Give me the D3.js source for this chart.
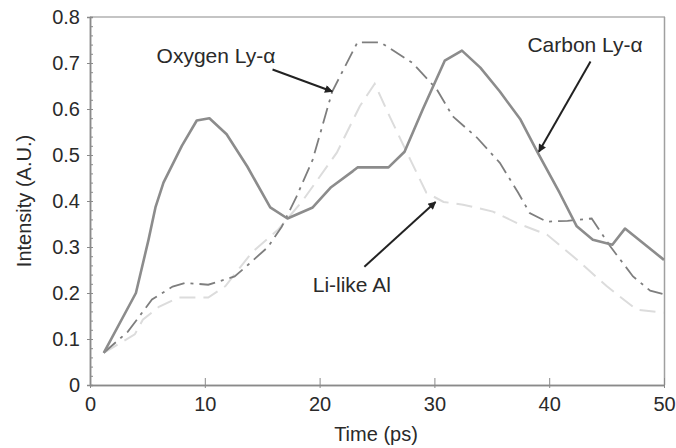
<!DOCTYPE html>
<html lang="en">
<head>
<meta charset="UTF-8">
<title>Intensity vs time</title>
<script src="https://d3js.org/d3.v7.min.js"></script>
<style>
    body { margin: 0; background: #fff; }
    svg { font-family: "Liberation Sans", Arial, sans-serif; }
    .axis path, .axis line { stroke: #8a8a8a; }
    .axis text { fill: #2a2a2a; font-size: 20px; }
</style>
</head>
<body>
<svg id="chart" width="676" height="448"></svg>
<script>
// time (ps), intensity (A.U.)
const carbonX = [1.2, 4, 5.1, 5.7, 6.4, 8, 9.3, 10.4, 11.9, 13.7, 15.7, 17.2, 19.4, 21, 22.9, 23.3, 26, 27.4, 29, 30.9, 32.4, 34, 35.7, 37.5, 39, 40.9, 42.4, 43.8, 45.5, 46.6, 50];
const carbonY = [0.07, 0.2, 0.316, 0.386, 0.44, 0.52, 0.575, 0.58, 0.545, 0.475, 0.386, 0.362, 0.386, 0.43, 0.465, 0.473, 0.473, 0.507, 0.6, 0.705, 0.727, 0.69, 0.638, 0.577, 0.505, 0.418, 0.345, 0.316, 0.305, 0.34, 0.272];

const oxygenX = [1.2, 3.3, 5.4, 7.2, 8.3, 10.3, 12.6, 13.8, 15.5, 16.7, 18, 19.4, 21.1, 23.3, 25.3, 28.1, 30.2, 31.6, 33.7, 35.7, 37.3, 38.3, 39.8, 41.6, 43.7, 45.3, 47.3, 48.8, 50];
const oxygenY = [0.07, 0.116, 0.186, 0.214, 0.222, 0.218, 0.236, 0.262, 0.3, 0.344, 0.41, 0.49, 0.638, 0.745, 0.745, 0.7, 0.643, 0.584, 0.538, 0.483, 0.418, 0.374, 0.355, 0.357, 0.362, 0.302, 0.236, 0.205, 0.197];

const lialX = [1.2, 3.9, 4.6, 6, 7.7, 10.3, 11.8, 14.1, 16.4, 18.5, 21.5, 23.5, 24.8, 26.1, 27.9, 29.3, 30.8, 32.5, 35.1, 37.2, 39.8, 42.4, 45, 47.6, 50];
const lialY = [0.07, 0.11, 0.142, 0.17, 0.19, 0.19, 0.215, 0.288, 0.338, 0.4, 0.505, 0.606, 0.655, 0.584, 0.49, 0.418, 0.398, 0.392, 0.377, 0.352, 0.327, 0.273, 0.215, 0.164, 0.157];

const xTicks = [0, 10, 20, 30, 40, 50];
const yTicks = [0, 0.1, 0.2, 0.3, 0.4, 0.5, 0.6, 0.7, 0.8];
const yMinor = d3.range(0, 0.801, 0.02);

// annotation labels: text, anchor point (data), arrow tail (data), arrow tip (data)
const labelText = ["Oxygen Ly-\u03b1", "Carbon Ly-\u03b1", "Li-like Al"];
const labelPos = [[5.8, 0.7], [38.1, 0.724], [19.4, 0.202]];
const arrowFrom = [[15.9, 0.686], [43.6, 0.703], [23.9, 0.257]];
const arrowTo = [[21.1, 0.638], [39.1, 0.507], [30.1, 0.398]];

const svg = d3.select("#chart");
const x = d3.scaleLinear().domain([0, 50]).range([90, 664]);
const y = d3.scaleLinear().domain([0, 0.8]).range([385, 17]);

// frame
svg.append("line").attr("x1", 90).attr("x2", 665).attr("y1", 17).attr("y2", 17)
   .attr("stroke", "#b0b0b0").attr("stroke-width", 1.5);
svg.append("line").attr("x1", 664.5).attr("x2", 664.5).attr("y1", 17).attr("y2", 385)
   .attr("stroke", "#a0a0a0").attr("stroke-width", 1.5);

// y axis
svg.append("g").attr("class", "axis").attr("transform", "translate(90,0)")
   .call(d3.axisLeft(y).tickValues(yTicks).tickSize(3).tickPadding(7)
   .tickFormat(d => d === 0 ? "0" : d3.format(".1f")(d)));
svg.append("g").attr("class", "axis").attr("transform", "translate(90,0)")
   .call(d3.axisRight(y).tickValues(yMinor).tickSize(3).tickFormat(""));

// x axis
svg.append("g").attr("class", "axis").attr("transform", "translate(0,385)")
   .call(d3.axisBottom(x).tickValues(xTicks).tickSize(3).tickPadding(9).tickSizeOuter(0));
svg.append("g").attr("class", "axis").attr("transform", "translate(0,385)")
   .call(d3.axisTop(x).tickValues(xTicks).tickSize(7).tickFormat("").tickSizeOuter(0));
svg.selectAll(".axis path").attr("stroke-width", 1.5);

// axis titles
svg.append("text").attr("x", 376).attr("y", 441).attr("text-anchor", "middle")
   .attr("font-size", 20).attr("fill", "#2a2a2a").text("Time (ps)");
svg.append("text").attr("transform", "translate(31,201) rotate(-90)").attr("text-anchor", "middle")
   .attr("font-size", 20).attr("fill", "#2a2a2a").text("Intensity (A.U.)");

const line = d3.line().x(d => x(d[0])).y(d => y(d[1]));
const pts = (xs, ys) => xs.map((v, i) => [v, ys[i]]);

svg.append("path").datum(pts(lialX, lialY)).attr("d", line)
   .attr("fill", "none").attr("stroke", "#dcdcdc").attr("stroke-width", 2)
   .attr("stroke-dasharray", "16,8");
svg.append("path").datum(pts(oxygenX, oxygenY)).attr("d", line)
   .attr("fill", "none").attr("stroke", "#7e7e7e").attr("stroke-width", 1.8)
   .attr("stroke-dasharray", "16,6,3,6");
svg.append("path").datum(pts(carbonX, carbonY)).attr("d", line)
   .attr("fill", "none").attr("stroke", "#8c8c8c").attr("stroke-width", 2.6)
   .attr("stroke-linejoin", "round");

// arrows
svg.append("defs").append("marker").attr("id", "head")
   .attr("viewBox", "0 0 10 10").attr("refX", 9).attr("refY", 5)
   .attr("markerWidth", 9).attr("markerHeight", 8).attr("orient", "auto")
   .attr("markerUnits", "userSpaceOnUse")
   .append("path").attr("d", "M0,0 L10,5 L0,10 Z").attr("fill", "#222");
svg.selectAll(".arrow").data(arrowFrom).join("line").attr("class", "arrow")
   .attr("x1", d => x(d[0])).attr("y1", d => y(d[1]))
   .attr("x2", (d, i) => x(arrowTo[i][0])).attr("y2", (d, i) => y(arrowTo[i][1]))
   .attr("stroke", "#222").attr("stroke-width", 2).attr("marker-end", "url(#head)");

svg.selectAll(".label").data(labelText).join("text").attr("class", "label")
   .attr("x", (d, i) => x(labelPos[i][0])).attr("y", (d, i) => y(labelPos[i][1]))
   .attr("font-size", 21).attr("fill", "#2a2a2a").text(d => d);
</script>
</body>
</html>
